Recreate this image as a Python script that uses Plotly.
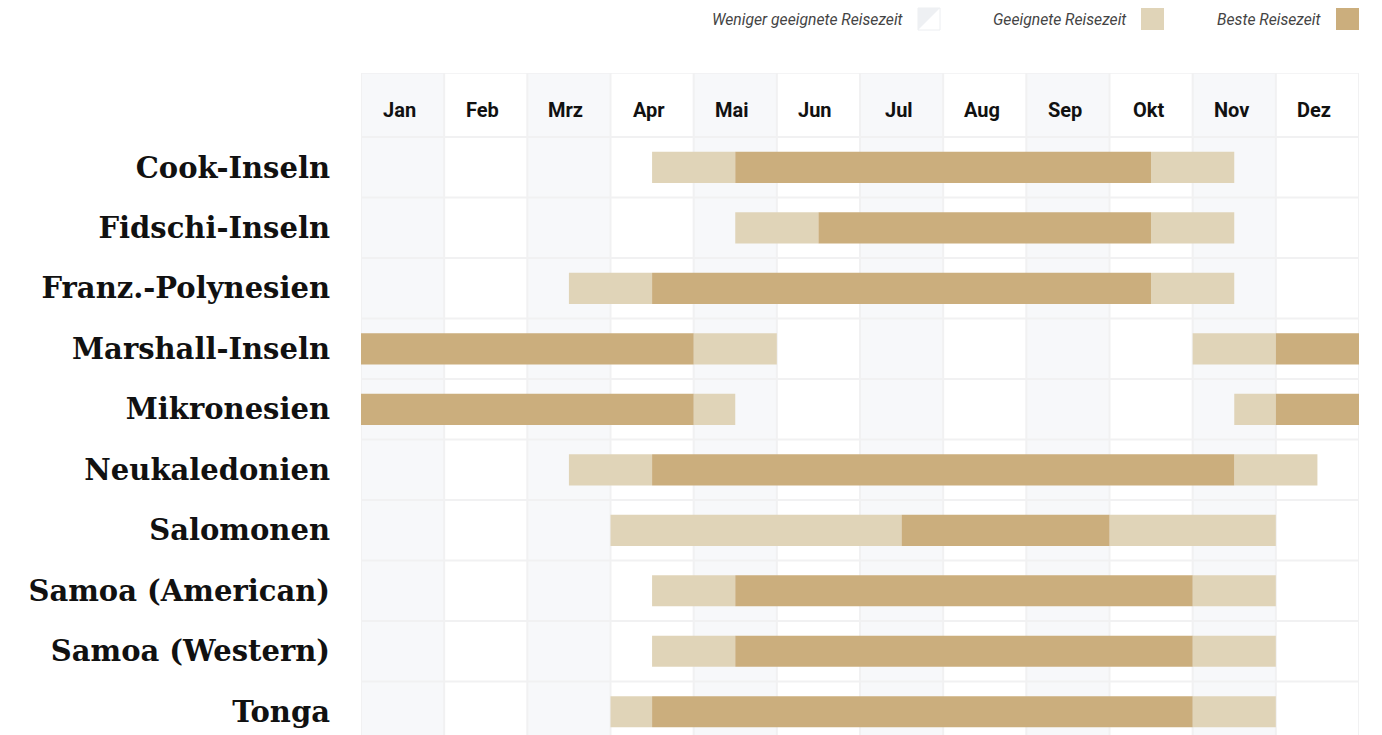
import plotly.graph_objects as go

months = ["Jan", "Feb", "Mrz", "Apr", "Mai", "Jun", "Jul", "Aug", "Sep", "Okt", "Nov", "Dez"]
destinations = ["Cook-Inseln", "Fidschi-Inseln", "Franz.-Polynesien", "Marshall-Inseln",
                "Mikronesien", "Neukaledonien", "Salomonen", "Samoa (American)",
                "Samoa (Western)", "Tonga"]

# month positions: month m occupies [m-0.5, m+0.5]; e.g. 4.0 = mid-April
good_dest = ["Cook-Inseln", "Cook-Inseln", "Fidschi-Inseln", "Fidschi-Inseln",
             "Franz.-Polynesien", "Franz.-Polynesien", "Marshall-Inseln", "Marshall-Inseln",
             "Mikronesien", "Mikronesien", "Neukaledonien", "Neukaledonien",
             "Salomonen", "Salomonen", "Samoa (American)", "Samoa (American)",
             "Samoa (Western)", "Samoa (Western)", "Tonga", "Tonga"]
good_start = [4.0, 10.0, 5.0, 10.0, 3.0, 10.0, 4.5, 10.5, 4.5, 11.0, 3.0, 11.0,
              3.5, 9.5, 4.0, 10.5, 4.0, 10.5, 3.5, 10.5]
good_end = [5.0, 11.0, 6.0, 11.0, 4.0, 11.0, 5.5, 11.5, 5.0, 11.5, 4.0, 12.0,
            7.0, 11.5, 5.0, 11.5, 5.0, 11.5, 4.0, 11.5]

best_dest = ["Cook-Inseln", "Fidschi-Inseln", "Franz.-Polynesien", "Marshall-Inseln",
             "Marshall-Inseln", "Mikronesien", "Mikronesien", "Neukaledonien",
             "Salomonen", "Samoa (American)", "Samoa (Western)", "Tonga"]
best_start = [5.0, 6.0, 4.0, 0.5, 11.5, 0.5, 11.5, 4.0, 7.0, 5.0, 5.0, 4.0]
best_end = [10.0, 10.0, 10.0, 4.5, 12.5, 4.5, 12.5, 11.0, 9.5, 10.5, 10.5, 10.5]

legend_labels = ["Weniger geeignete Reisezeit", "Geeignete Reisezeit", "Beste Reisezeit"]

GOOD = "#e0d4b8"
BEST = "#cbae7d"
SHADE = "#f7f8fa"
GRID = "#f1f1f2"

row_index = {d: i + 0.5 for i, d in enumerate(destinations)}

fig = go.Figure()
fig.add_trace(go.Bar(
    orientation="h", y=[row_index[d] for d in good_dest],
    base=good_start, x=[e - s for s, e in zip(good_start, good_end)],
    width=0.515, marker=dict(color=GOOD, line=dict(width=0)),
    name=legend_labels[1], hoverinfo="skip"))
fig.add_trace(go.Bar(
    orientation="h", y=[row_index[d] for d in best_dest],
    base=best_start, x=[e - s for s, e in zip(best_start, best_end)],
    width=0.515, marker=dict(color=BEST, line=dict(width=0)),
    name=legend_labels[2], hoverinfo="skip"))

header_top = -1.06
y_bottom = 9.884

shapes = []
for m in range(1, 13, 2):
    shapes.append(dict(type="rect", xref="x", yref="y", x0=m - 0.5, x1=m + 0.5,
                       y0=header_top, y1=y_bottom + 1, fillcolor=SHADE,
                       line=dict(width=0), layer="below"))
for m in range(0, 13):
    shapes.append(dict(type="line", xref="x", yref="y", x0=m + 0.5, x1=m + 0.5,
                       y0=header_top, y1=y_bottom + 1, line=dict(color=GRID, width=2),
                       layer="below"))
for r in range(0, len(destinations) + 1):
    shapes.append(dict(type="line", xref="x", yref="y", x0=0.5, x1=12.5,
                       y0=r, y1=r, line=dict(color=GRID, width=2), layer="below"))
shapes.append(dict(type="line", xref="x", yref="y", x0=0.5, x1=12.5,
                   y0=header_top, y1=header_top, line=dict(color=GRID, width=1.5),
                   layer="below"))

W, H = 1382, 735
L, R, T, B = 361, 23, 73, 0
PW, PH = W - L - R, H - T - B


def px(x):
    return (x - L) / PW


def py(y):
    return (H - B - y) / PH


sq = [(918, 8, 940, 30), (1141, 8, 1164, 30), (1336, 8, 1359, 30)]
x0, y0, x1, y1 = sq[0]
shapes.append(dict(type="rect", xref="paper", yref="paper", x0=px(x0), x1=px(x1),
                   y0=py(y1), y1=py(y0), fillcolor="white",
                   line=dict(color="#eceef1", width=1)))
shapes.append(dict(type="path", xref="paper", yref="paper",
                   path=f"M {px(x0)},{py(y0)} L {px(x1)},{py(y0)} L {px(x0)},{py(y1)} Z",
                   fillcolor="#eef0f3", line=dict(width=0)))
for (a, b, c, d), col in zip(sq[1:], [GOOD, BEST]):
    shapes.append(dict(type="rect", xref="paper", yref="paper", x0=px(a), x1=px(c),
                       y0=py(d), y1=py(b), fillcolor=col, line=dict(width=0)))

annotations = []
for i, m in enumerate(months):
    annotations.append(dict(x=i + 1, y=-0.45, xref="x", yref="y", text=m,
                            showarrow=False, xshift=-3,
                            font=dict(family="Roboto", size=20, color="#111111",
                                      weight="bold")))
for lbl, (a, b, c, d) in zip(legend_labels, sq):
    annotations.append(dict(x=px(a - 12), y=py((b + d) / 2 + 1), xref="paper",
                            yref="paper", text=f"<i>{lbl}</i>", showarrow=False,
                            xanchor="right", yanchor="middle",
                            font=dict(family="Roboto", size=15.7, color="#444444")))

fig.update_layout(
    width=W, height=H,
    margin=dict(l=L, r=R, t=T, b=B),
    paper_bgcolor="white", plot_bgcolor="white",
    barmode="overlay", showlegend=False,
    shapes=shapes, annotations=annotations,
    xaxis=dict(range=[0.5, 12.5], showgrid=False, zeroline=False, showticklabels=False,
               fixedrange=True),
    yaxis=dict(range=[y_bottom, header_top], showgrid=False, zeroline=False,
               tickvals=[row_index[d] for d in destinations], ticktext=destinations,
               ticks="", ticklabelstandoff=30,
               tickfont=dict(family="DejaVu Serif", size=29, color="#111111",
                             weight="bold"),
               fixedrange=True),
)

fig.write_html("out.html", config={"displayModeBar": False},
               post_script="document.body.style.margin='0';")
